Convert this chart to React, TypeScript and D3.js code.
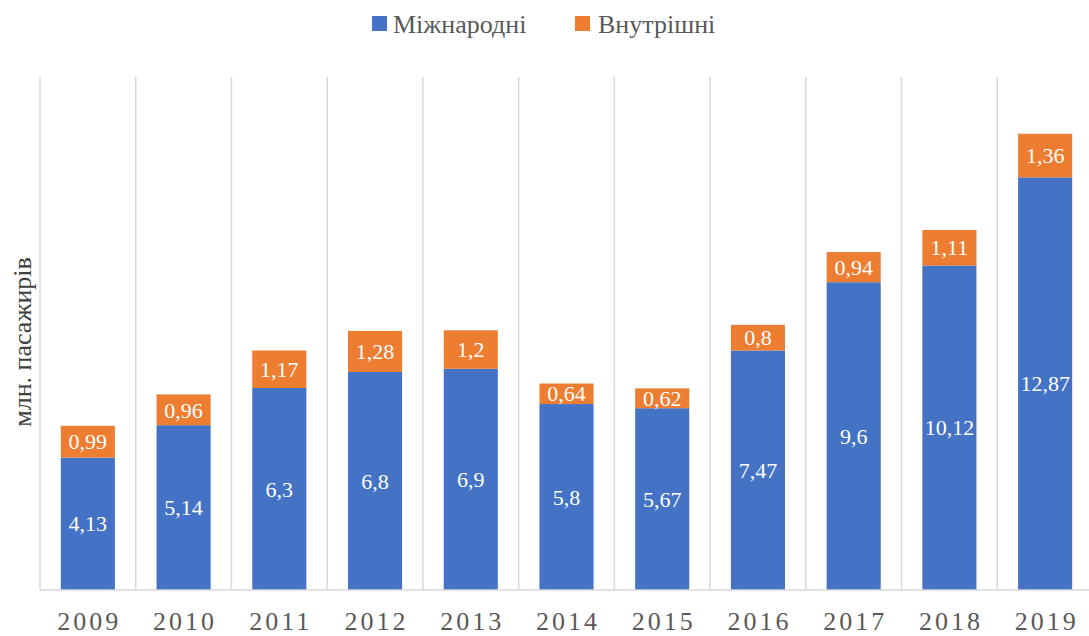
import { useMemo } from 'react';
import * as d3 from 'd3';

const years = ['2009', '2010', '2011', '2012', '2013', '2014', '2015', '2016', '2017', '2018', '2019'];
const international = [4.13, 5.14, 6.3, 6.8, 6.9, 5.8, 5.67, 7.47, 9.6, 10.12, 12.87];
const domestic = [0.99, 0.96, 1.17, 1.28, 1.2, 0.64, 0.62, 0.8, 0.94, 1.11, 1.36];
const seriesNames = ['Міжнародні', 'Внутрішні'];
const colors = ['#4472c4', '#ed7d31'];
const yMax = 16;

const fmt = (v: number) => String(v).replace('.', ',');
const font = 'Liberation Serif, Times New Roman, Tinos, Times, serif';

export default function App() {
  const width = 1089;
  const height = 636;
  const margin = { top: 77, right: -4, bottom: 46, left: 40 };

  const x = useMemo(
    () => d3.scaleBand().domain(years).range([margin.left, width - margin.right]).paddingInner(0).paddingOuter(0),
    []
  );
  const y = useMemo(() => d3.scaleLinear().domain([0, yMax]).range([height - margin.bottom, margin.top]), []);

  const rows = years.map((yr, i) => ({ year: yr, intl: international[i], dom: domestic[i] }));
  const stack = d3.stack<typeof rows[number]>().keys(['intl', 'dom'])(rows as any);

  const step = x.step();
  const barW = step * 0.565;
  const base = y(0);

  return (
    <svg width={width} height={height} style={{ position: 'absolute', left: 0, top: 0, background: '#fff' }}>
      {/* category separators */}
      {years.map((yr) => (
        <line key={yr} x1={x(yr)!} x2={x(yr)!} y1={y(yMax)} y2={base} stroke="#d9d9d9" strokeWidth={1.5} />
      ))}
      {/* bars */}
      {stack.map((layer, si) =>
        layer.map((d, i) => {
          const cx = x(years[i])! + step / 2;
          const top = y(d[1]);
          const bot = y(d[0]);
          const v = si === 0 ? international[i] : domestic[i];
          return (
            <g key={`${si}-${i}`}>
              <rect x={cx - barW / 2} y={top} width={barW} height={bot - top} fill={colors[si]} />
              <text
                x={cx}
                y={(top + bot) / 2}
                dy="0.35em"
                textAnchor="middle"
                fill="#fff"
                fontSize={22}
                fontFamily={font}
              >
                {fmt(v)}
              </text>
            </g>
          );
        })
      )}
      {/* baseline */}
      <line x1={margin.left} x2={width} y1={base} y2={base} stroke="#d9d9d9" strokeWidth={1.5} />
      {/* year labels */}
      {years.map((yr) => (
        <text
          key={yr}
          x={x(yr)! + step / 2 + 1.5}
          y={630}
          textAnchor="middle"
          fill="#595959"
          fontSize={26}
          letterSpacing={3}
          fontFamily={font}
        >
          {yr}
        </text>
      ))}
      {/* y axis title */}
      <text
        transform="translate(31,342) rotate(-90)"
        textAnchor="middle"
        fill="#404040"
        fontSize={26}
        fontFamily={font}
      >
        млн. пасажирів
      </text>
      {/* legend */}
      <rect x={372} y={16} width={15} height={15} fill={colors[0]} />
      <text x={393} y={33} fill="#595959" fontSize={26} fontFamily={font}>
        {seriesNames[0]}
      </text>
      <rect x={575} y={16} width={15} height={15} fill={colors[1]} />
      <text x={598} y={33} fill="#595959" fontSize={26} fontFamily={font}>
        {seriesNames[1]}
      </text>
    </svg>
  );
}
